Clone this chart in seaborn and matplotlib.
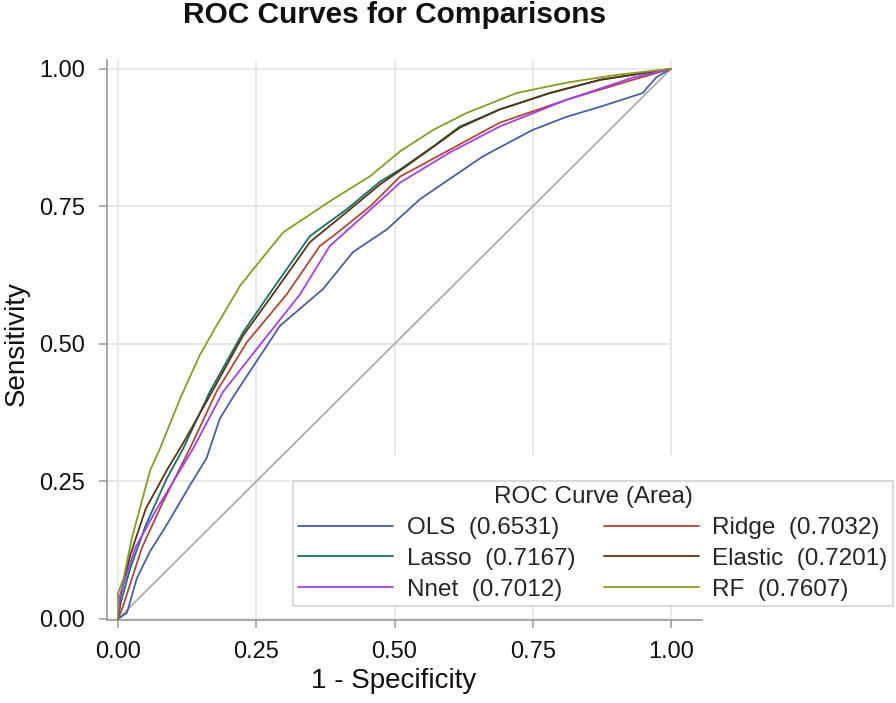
import pandas as pd
import matplotlib.pyplot as plt
import seaborn as sns
from matplotlib.lines import Line2D
from matplotlib.patches import Rectangle

# ROC points (fpr = 1 - specificity, tpr = sensitivity)
ols_fpr = [0, 0.016, 0.034, 0.058, 0.088, 0.13, 0.16, 0.184, 0.206, 0.226, 0.293, 0.371,
           0.425, 0.486, 0.546, 0.60, 0.66, 0.75, 0.812, 0.872, 0.949, 0.958, 0.974, 1.0]
ols_tpr = [0, 0.011, 0.074, 0.123, 0.171, 0.243, 0.292, 0.364, 0.40, 0.431, 0.533, 0.60,
           0.667, 0.708, 0.763, 0.80, 0.841, 0.889, 0.913, 0.931, 0.956, 0.967, 0.985, 1.0]

ridge_fpr = [0, 0.008, 0.043, 0.08, 0.13, 0.178, 0.233, 0.305, 0.365, 0.389, 0.456, 0.51,
             0.60, 0.69, 0.812, 0.931, 1.0]
ridge_tpr = [0, 0.02, 0.129, 0.21, 0.31, 0.413, 0.503, 0.59, 0.678, 0.696, 0.75, 0.804,
             0.853, 0.902, 0.944, 0.98, 1.0]

lasso_fpr = [0, 0.005, 0.022, 0.05, 0.088, 0.118, 0.166, 0.226, 0.28, 0.347, 0.414, 0.474,
             0.51, 0.57, 0.618, 0.69, 0.781, 0.872, 1.0]
lasso_tpr = [0, 0.03, 0.092, 0.17, 0.255, 0.31, 0.413, 0.521, 0.60, 0.696, 0.745, 0.795,
             0.817, 0.859, 0.895, 0.926, 0.956, 0.98, 1.0]

elastic_fpr = [0, 0.004, 0.022, 0.05, 0.088, 0.118, 0.16, 0.226, 0.28, 0.347, 0.414, 0.474,
               0.51, 0.57, 0.618, 0.69, 0.781, 0.872, 1.0]
elastic_tpr = [0, 0.04, 0.116, 0.2, 0.27, 0.32, 0.395, 0.515, 0.59, 0.685, 0.74, 0.79,
               0.815, 0.858, 0.893, 0.926, 0.956, 0.98, 1.0]

nnet_fpr = [0, 0.004, 0.031, 0.07, 0.136, 0.19, 0.251, 0.329, 0.383, 0.474, 0.51, 0.60,
            0.69, 0.812, 0.931, 1.0]
nnet_tpr = [0, 0.045, 0.129, 0.2, 0.31, 0.413, 0.491, 0.59, 0.678, 0.76, 0.793, 0.848,
            0.895, 0.944, 0.984, 1.0]

rf_fpr = [0, 0.0, 0.01, 0.025, 0.058, 0.076, 0.112, 0.148, 0.178, 0.221, 0.26, 0.299, 0.35,
          0.389, 0.456, 0.51, 0.57, 0.631, 0.721, 0.812, 0.902, 1.0]
rf_tpr = [0, 0.047, 0.074, 0.147, 0.27, 0.31, 0.40, 0.48, 0.533, 0.606, 0.655, 0.703, 0.737,
          0.763, 0.805, 0.85, 0.889, 0.92, 0.956, 0.975, 0.989, 1.0]

models = ['OLS', 'Ridge', 'Lasso', 'Elastic', 'Nnet', 'RF']
areas = [0.6531, 0.7032, 0.7167, 0.7201, 0.7012, 0.7607]
colors = ['#4a5ea8', '#b0473a', '#17706a', '#5a3510', '#a040ee', '#8a9a25']
legend_order = ['OLS', 'Lasso', 'Nnet', 'Ridge', 'Elastic', 'RF']
diag = [0, 1]

curves = {
    'OLS': (ols_fpr, ols_tpr),
    'Ridge': (ridge_fpr, ridge_tpr),
    'Lasso': (lasso_fpr, lasso_tpr),
    'Elastic': (elastic_fpr, elastic_tpr),
    'Nnet': (nnet_fpr, nnet_tpr),
    'RF': (rf_fpr, rf_tpr),
}

frames = []
for name, (fpr, tpr) in curves.items():
    frames.append(pd.DataFrame({'fpr': fpr, 'tpr': tpr, 'model': name}))
df = pd.concat(frames, ignore_index=True)

sns.set_theme(style='white')
plt.rcParams['font.family'] = ['Liberation Sans', 'DejaVu Sans']

W, H = 896, 703
fig = plt.figure(figsize=(W / 100, H / 100), dpi=100)
ax = fig.add_axes([107 / W, 1 - 620 / H, (702 - 107) / W, (620 - 60) / H])

ticks = [0, 0.25, 0.5, 0.75, 1.0]
tick_labels = ['0.00', '0.25', '0.50', '0.75', '1.00']

# grid: vertical lines full height, horizontal lines stop at x = 1
ax.grid(True, axis='x', color='#e6e6e6', lw=1.3)
ax.set_axisbelow(True)
ax.hlines(ticks, -0.02, 1.0, color='#e6e6e6', lw=1.3, zorder=0.6)

ax.plot(diag, diag, color='#a8a8a8', lw=1.2, zorder=2)
palette = dict(zip(models, colors))
sns.lineplot(data=df, x='fpr', y='tpr', hue='model', palette=palette, estimator=None,
             sort=False, lw=1.3, legend=False, ax=ax, zorder=3)

ax.set_xlim(-0.02, 1.056)
ax.set_ylim(-0.002, 1.016)
ax.set_xticks(ticks)
ax.set_xticklabels(tick_labels)
ax.set_yticks(ticks)
ax.set_yticklabels(tick_labels)
for side in ['top', 'right']:
    ax.spines[side].set_visible(False)
for side in ['left', 'bottom']:
    ax.spines[side].set_color('#9a9a9a')
    ax.spines[side].set_linewidth(1.2)
ax.tick_params(axis='both', which='major', labelsize=17, color='#a0a0a0', length=6,
               width=1.2, direction='out', bottom=True, left=True, labelcolor='#111111')
ax.tick_params(axis='y', pad=10)
ax.tick_params(axis='x', pad=9)

ax.set_xlabel('1 - Specificity', fontsize=20, color='#111111')
ax.xaxis.set_label_coords(0.482, -0.085)
ax.set_ylabel('Sensitivity', fontsize=20, color='#111111')
ax.yaxis.set_label_coords(-0.13, 0.493)

fig.text(395 / W, 1 - 1 / H, 'ROC Curves for Comparisons', ha='center', va='top',
         fontsize=21.5, fontweight='bold', color='#111111')

# white block behind legend (hides the grid like the original)
fig.add_artist(Rectangle((290 / W, 1 - 606 / H), (W - 290) / W, (606 - 455) / H,
                         transform=fig.transFigure, facecolor='white', edgecolor='none',
                         zorder=2))

handles = []
labels = []
for name in legend_order:
    i = models.index(name)
    handles.append(Line2D([0], [0], color=colors[i], lw=1.3))
    labels.append(f'{name}  ({areas[i]:.4f})')

leg = fig.legend(handles, labels, ncol=2, loc='lower left',
                 bbox_to_anchor=(293 / W, 1 - 606 / H), borderaxespad=0,
                 frameon=True, fancybox=False, edgecolor='#c8c8c8',
                 title='ROC Curve (Area)', fontsize=17.5, title_fontsize=17.5,
                 handlelength=3.9, handletextpad=0.55, columnspacing=1.2,
                 labelspacing=0.36, borderpad=0.22)
leg.get_frame().set_linewidth(1.2)
leg.set_zorder(5)

fig.savefig('out.png', dpi=100)
